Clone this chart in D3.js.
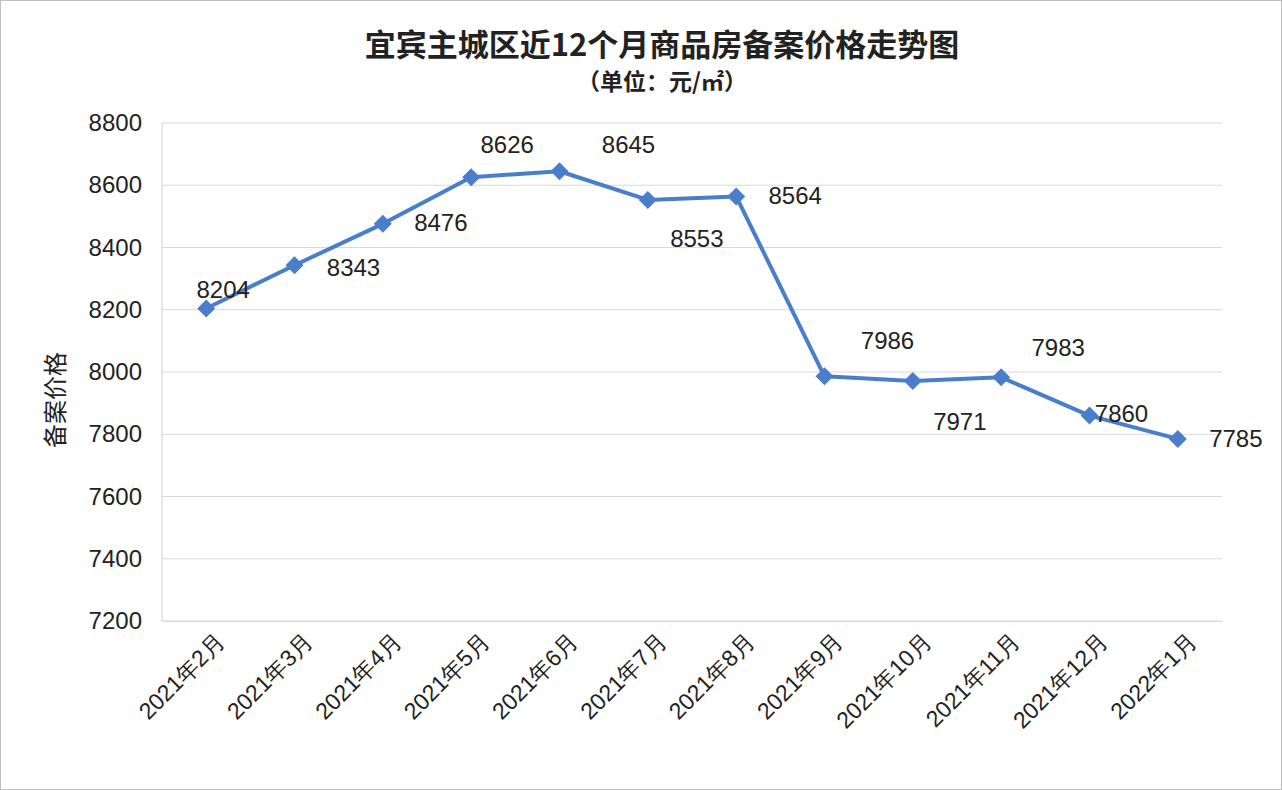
<!DOCTYPE html>
<html><head><meta charset="utf-8">
<script src="https://cdn.jsdelivr.net/npm/d3@7"></script>
<style>
body{margin:0;background:#fff;font-family:"Noto Sans CJK SC","Noto Sans",sans-serif;}
</style></head>
<body>
<script>
const months = ['2021年2月','2021年3月','2021年4月','2021年5月','2021年6月','2021年7月','2021年8月','2021年9月','2021年10月','2021年11月','2021年12月','2022年1月'];
const prices = [8204,8343,8476,8626,8645,8553,8564,7986,7971,7983,7860,7785];
const yTicks = [7200,7400,7600,7800,8000,8200,8400,8600,8800];
// label offsets relative to each point
const labelDx = [17,59,58,36,69,49,59,63,47,57,32,58];
const labelDy = [-19,2,-1,-33,-27,39,-1,-36,41,-30,-2,0];

const W = 1282, H = 790;
const M = {top:123, right:60, bottom:169, left:162};
const svg = d3.select('body').append('svg').attr('width',W).attr('height',H);
svg.append('rect').attr('x',0.5).attr('y',0.5).attr('width',W-1).attr('height',H-1)
  .attr('fill','#fff').attr('stroke','#bfbfbf');

const x = d3.scaleBand().domain(months).range([M.left, W-M.right]);
const y = d3.scaleLinear().domain([7200,8800]).range([H-M.bottom, M.top]);

svg.append('g').selectAll('line').data(yTicks).enter().append('line')
  .attr('x1',M.left).attr('x2',W-M.right)
  .attr('y1',d=>y(d)).attr('y2',d=>y(d))
  .attr('stroke','#d9d9d9').attr('stroke-width',1.2);
svg.append('line').attr('x1',M.left).attr('x2',M.left).attr('y1',M.top).attr('y2',H-M.bottom)
  .attr('stroke','#d9d9d9').attr('stroke-width',1.2);

const yAxis = svg.append('g').attr('transform','translate('+M.left+',0)')
  .call(d3.axisLeft(y).tickValues(yTicks).tickSize(0).tickPadding(20).tickFormat(d3.format('d')));
yAxis.select('.domain').remove();
yAxis.selectAll('text').attr('font-size',24).attr('fill','#222').attr('font-family','Liberation Sans, Arial, sans-serif');

const xAxis = svg.append('g').attr('transform','translate(0,'+(H-M.bottom)+')')
  .call(d3.axisBottom(x).tickSize(0).tickPadding(0));
xAxis.select('.domain').attr('stroke','#d9d9d9');
xAxis.selectAll('text').attr('font-size',23).attr('fill','#222')
  .attr('text-anchor','end').attr('dy',0)
  .attr('transform','translate(20,22) rotate(-45)');

const line = d3.line().x(d=>x(d.m)+x.bandwidth()/2).y(d=>y(d.v));
const pts = months.map((m,i)=>({m:m, v:prices[i], i:i}));
svg.append('path').datum(pts).attr('d',line).attr('fill','none')
  .attr('stroke','#4a7ecb').attr('stroke-width',4).attr('stroke-linejoin','round');
svg.append('g').selectAll('path').data(pts).enter().append('path')
  .attr('d','M0,-9L9,0L0,9L-9,0Z')
  .attr('transform',d=>'translate('+(x(d.m)+x.bandwidth()/2)+','+y(d.v)+')')
  .attr('fill','#4a7ecb');
svg.append('g').selectAll('text').data(pts).enter().append('text')
  .attr('x',d=>x(d.m)+x.bandwidth()/2+labelDx[d.i])
  .attr('y',d=>y(d.v)+labelDy[d.i])
  .attr('dy','0.35em').attr('text-anchor','middle')
  .attr('font-size',24).attr('fill','#222').attr('font-family','Liberation Sans, Arial, sans-serif')
  .text(d=>d.v);

svg.append('text').attr('x',662).attr('y',56).attr('text-anchor','middle')
  .attr('font-size',31).attr('font-weight','bold').attr('fill','#222')
  .text('宜宾主城区近12个月商品房备案价格走势图');
svg.append('text').attr('x',662).attr('y',90).attr('text-anchor','middle')
  .attr('font-size',23).attr('font-weight','bold').attr('fill','#222')
  .text('（单位：元/㎡）');
svg.append('text').attr('transform','translate(64,400) rotate(-90)').attr('text-anchor','middle')
  .attr('font-size',24).attr('fill','#222').text('备案价格');
</script>
</body></html>
